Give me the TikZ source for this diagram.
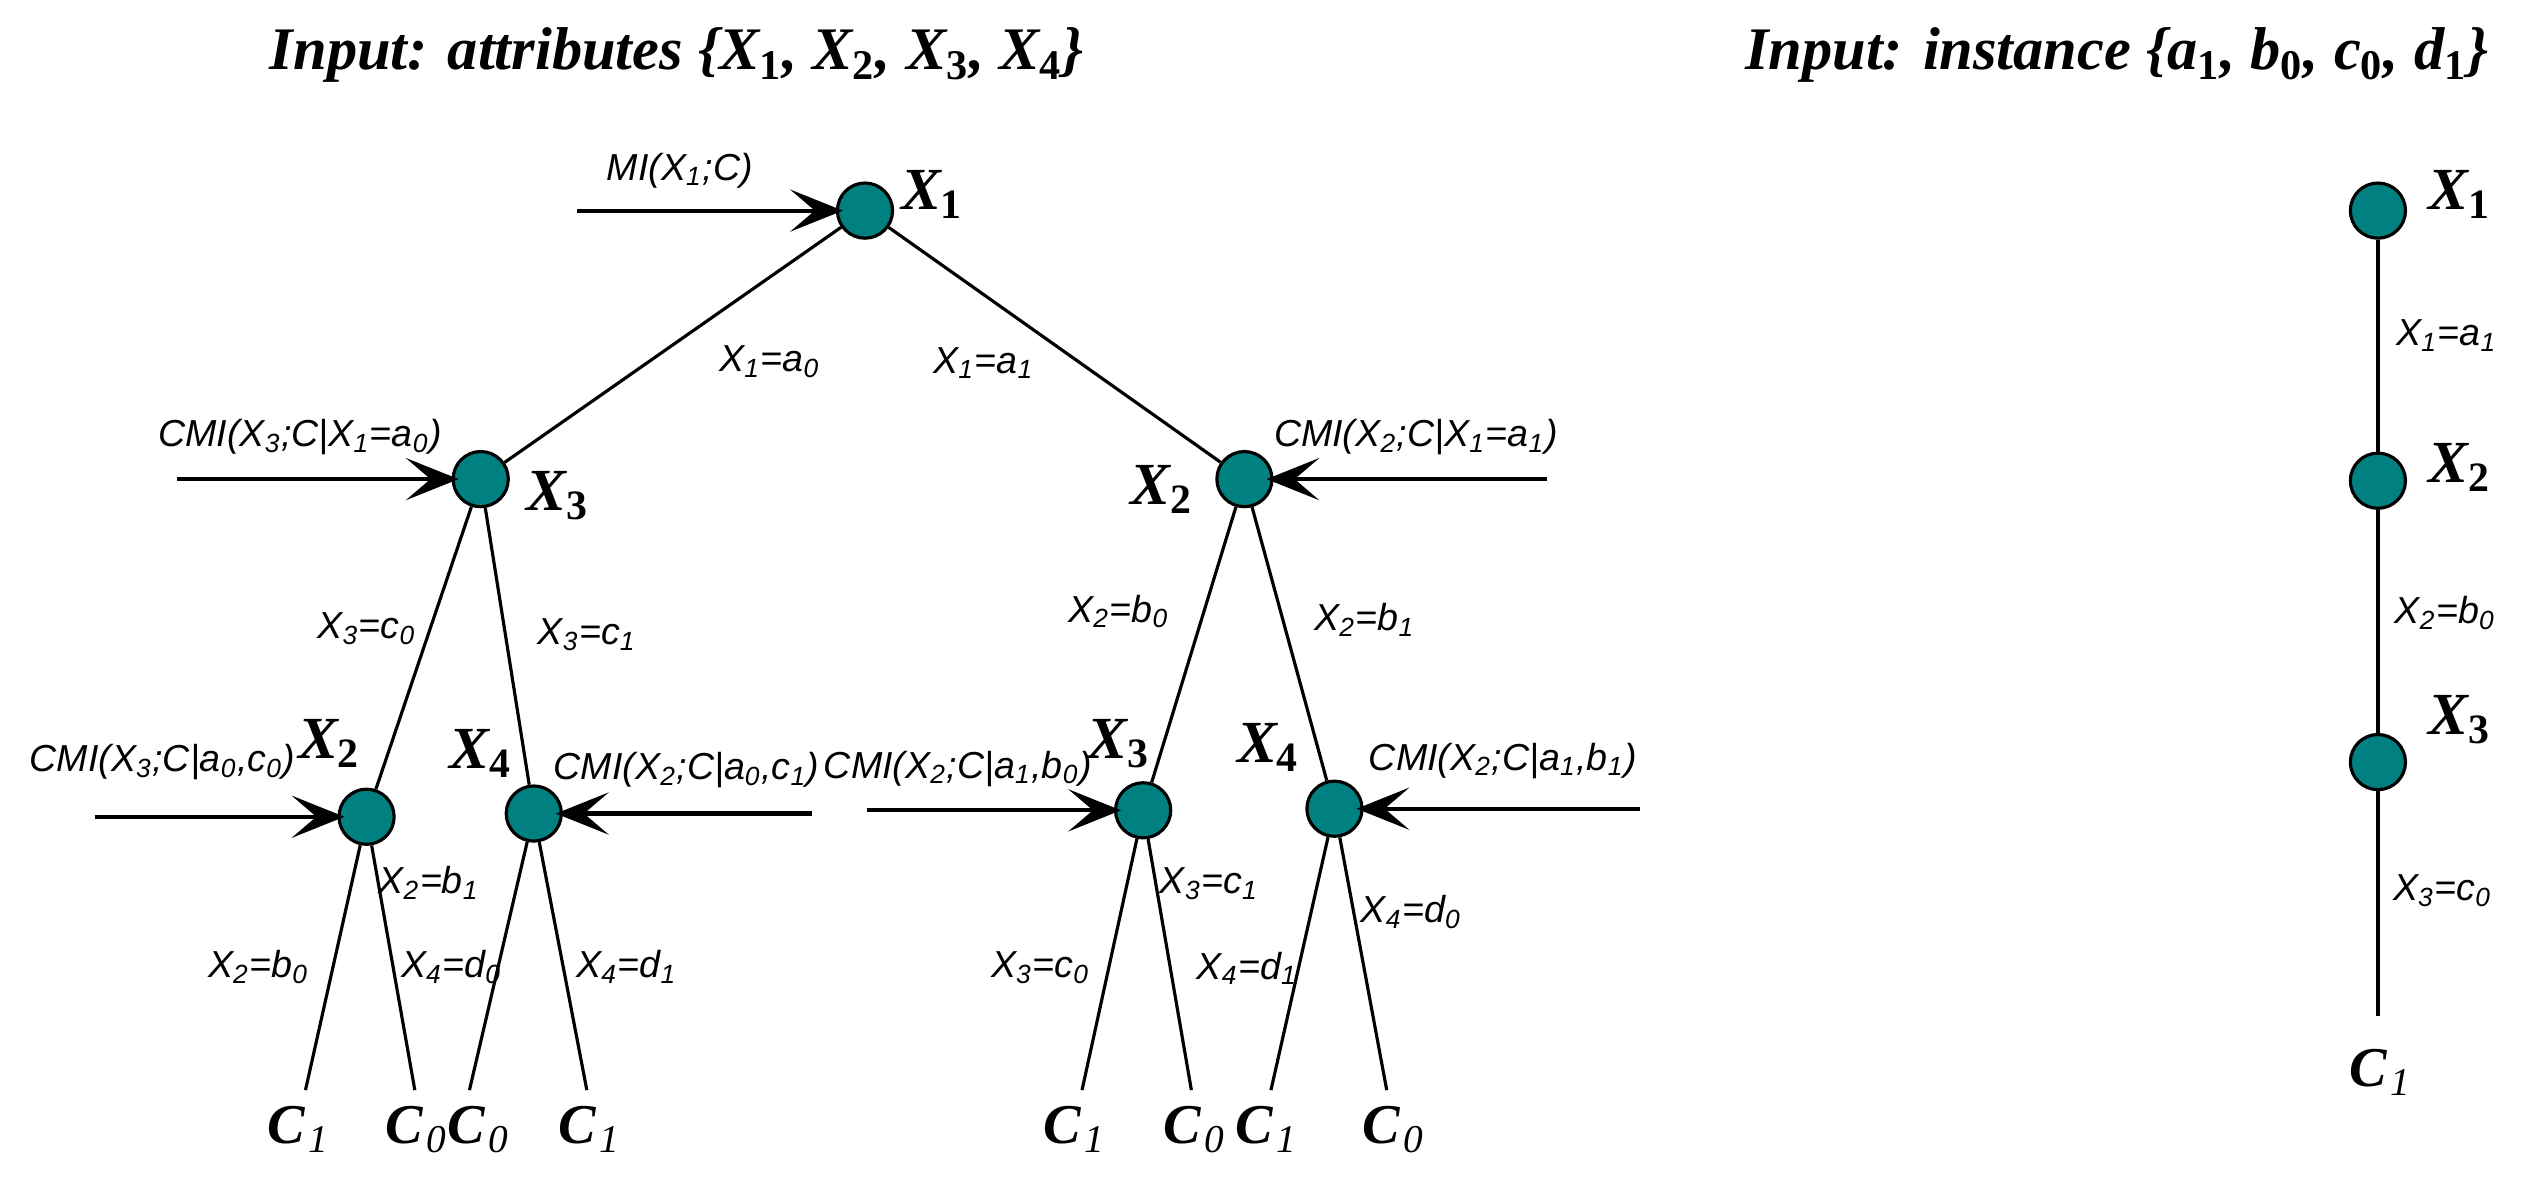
\documentclass[tikz,border=0pt]{standalone}
\usepackage{fontspec}
\setmainfont{Liberation Serif}
\newfontfamily\labelfont{Liberation Sans}
\usetikzlibrary{arrows.meta}
\definecolor{nodeTeal}{RGB}{0,128,128}
\newcommand\low[1]{\textsubscript{#1}}

\begin{document}
\begin{tikzpicture}
[x=0.016078cm,y=-0.016078cm,
  nodeDecorate/.style={shape=circle,draw,line width=0.9pt,fill=nodeTeal,
    minimum size=15.7pt,inner sep=0pt},
  lineDecorate/.style={-,line width=0.9pt},
  arrowDecorate/.style={-{Stealth[length=15pt,width=12pt,inset=7pt]},
    line width=1.2pt,shorten >=-2pt},
  nameDecorate/.style={anchor=base west,inner sep=0pt,
    font=\fontsize{17}{20}\selectfont\bfseries\itshape},
  leafDecorate/.style={anchor=base west,inner sep=0pt,
    font=\fontsize{16}{19}\selectfont\bfseries\itshape},
  condDecorate/.style={anchor=base west,inner sep=0pt,
    font=\fontsize{10.7}{13}\labelfont\itshape},
  titleDecorate/.style={anchor=base,inner sep=0pt,
    font=\fontsize{17.2}{20}\selectfont\bfseries\itshape}]
\useasboundingbox (0,0) rectangle (1568,737.6);
%% titles
\node (t1) at (421,43.5) [titleDecorate]
  {Input: attributes \{X\low{\upshape 1}, X\low{\upshape 2}, X\low{\upshape 3}, X\low{\upshape 4}\}};
\node (t2) at (1316.5,43.5) [titleDecorate]
  {Input: instance \{a\low{\upshape 1}, b\low{\upshape 0}, c\low{\upshape 0}, d\low{\upshape 1}\}};
%% nodes or vertices
\foreach \nodename/\x/\y in {
  %% decision tree
  r1/538/131, r3/299/298, r2/774/298,
  r32/228/508, r34/332/506, r23/711/504, r24/830/503,
  %% instance path
  p1/1479/131, p2/1479/299, p3/1479/474}
{
  \node (\nodename) at (\x,\y) [nodeDecorate] {};
}
%% leaf ends
\foreach \ename/\x/\y in {
  e1/190/678, e2/258/678, e3/292/678, e4/365/678,
  e5/673/678, e6/741/678, e7/790.5/678, e8/862.5/678, e9/1479/632}
{
  \coordinate (\ename) at (\x,\y);
}
%% edges or lines
\path
\foreach \startnode/\endnode in {
  r1/r3, r1/r2, r3/r32, r3/r34, r2/r23, r2/r24, p1/p2, p2/p3,
  r32/e1, r32/e2, r34/e3, r34/e4, r23/e5, r23/e6, r24/e7, r24/e8, p3/e9}
{
  (\startnode) edge[lineDecorate] (\endnode)
};
%% attribute names
\foreach \lname/\x/\y/\v in {
  l1/560/130/1, l3/327/317.5/3, l2/703/314/2,
  l32/185/472/2, l34/279/478/4, l23/676/472/3, l24/769/474/4,
  m1/1510/130/1, m2/1510/300/2, m3/1510/457/3}
{
  \node (\lname) at (\x,\y) [nameDecorate] {X\low{\upshape\v}};
}
%% class labels
\foreach \lname/\x/\y/\v in {
  c1/166/711/1, c2/239.5/711/0, c3/278/711/0, c4/347/711/1,
  c5/648.5/711/1, c6/723/711/0, c7/768/711/1, c8/847/711/0,
  c9/1461/676/1}
{
  \node (\lname) at (\x,\y) [leafDecorate] {C\kern1pt\low{\mdseries\v}};
}
%% incoming arrows
\foreach \aname/\x/\y/\target in {
  s1/359/131/r1, s3/110/298/r3, s2/962/298/r2,
  s32/59/508/r32, s34/505/506/r34, s23/539/504/r23, s24/1020/503/r24}
{
  \coordinate (\aname) at (\x,\y);
  \draw[arrowDecorate] (\aname) -- (\target);
}
%% arrow and branch texts
\foreach \cname/\x/\y/\txt in {
  q1/377/112/{MI(X\low1;C)},
  q3/98/278/{CMI(X\low3;C|X\low1=a\low0)},
  q2/792/278/{CMI(X\low2;C|X\low1=a\low1)},
  q32/18/480/{CMI(X\low3;C|a\low0,c\low0)},
  q34/344/485/{CMI(X\low2;C|a\low0,c\low1)},
  q23/512/484/{CMI(X\low2;C|a\low1,b\low0)},
  q24/851/479/{CMI(X\low2;C|a\low1,b\low1)},
  b1/447/231/{X\low1=a\low0}, b2/580/232/{X\low1=a\low1},
  b3/197/397/{X\low3=c\low0}, b4/334/401/{X\low3=c\low1},
  b5/664/387/{X\low2=b\low0}, b6/817/392/{X\low2=b\low1},
  b7/235/556/{X\low2=b\low1}, b8/129/608/{X\low2=b\low0},
  b9/249/608/{X\low4=d\low0}, b10/358/608/{X\low4=d\low1},
  b11/616/608/{X\low3=c\low0}, b12/721/556/{X\low3=c\low1},
  b13/744/609/{X\low4=d\low1}, b14/846/574/{X\low4=d\low0},
  b15/1490/215/{X\low1=a\low1}, b16/1489/388/{X\low2=b\low0},
  b17/1488/560/{X\low3=c\low0}}
{
  \node (\cname) at (\x,\y) [condDecorate] {\txt};
}
\end{tikzpicture}
\end{document}
